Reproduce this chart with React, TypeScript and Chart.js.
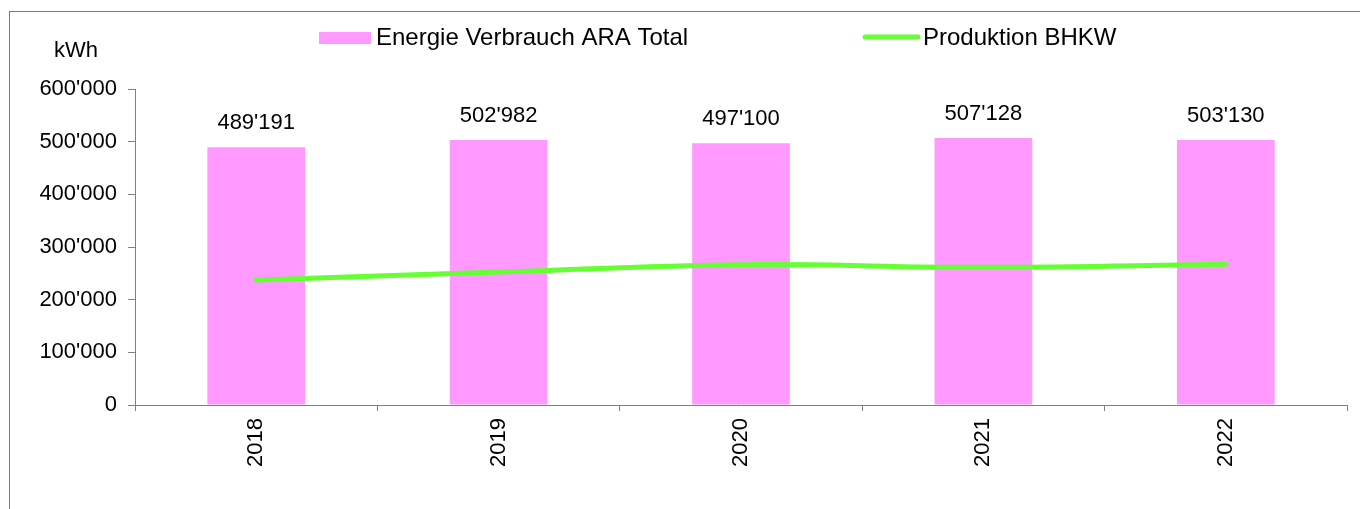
import React, { useEffect, useRef } from "react";
import { Chart, registerables } from "chart.js";

Chart.register(...registerables);

const years = ["2018", "2019", "2020", "2021", "2022"];
const verbrauch = [489191, 502982, 497100, 507128, 503130];
const produktion = [237300, 252500, 266400, 261400, 267100];
const yTicks = [0, 100000, 200000, 300000, 400000, 500000, 600000];

const FONT = "'Liberation Sans', Arial, sans-serif";
const PINK = "#FF99FF";
const GREEN = "#66FF33";
const AXIS = "#808080";

function fmt(v: number): string {
  return String(Math.round(v)).replace(/\B(?=(\d{3})+(?!\d))/g, "'");
}

const decorPlugin = {
  id: "decor",
  beforeDraw(chart: any) {
    const ctx = chart.ctx;
    ctx.save();
    ctx.fillStyle = "#ffffff";
    ctx.fillRect(0, 0, chart.width, chart.height);
    ctx.strokeStyle = "#7a7a7a";
    ctx.lineWidth = 1;
    ctx.strokeRect(9.5, 11.5, chart.width + 20, chart.height + 20);
    ctx.restore();
  },
  afterDatasetsDraw(chart: any) {
    const ctx = chart.ctx;
    ctx.save();
    // data labels above bars
    const idx = chart.data.datasets.findIndex((d: any) => d.type === "bar");
    const meta = chart.getDatasetMeta(idx);
    ctx.fillStyle = "#000";
    ctx.font = `22px ${FONT}`;
    ctx.textAlign = "center";
    ctx.textBaseline = "middle";
    meta.data.forEach((el: any, i: number) => {
      const v = chart.data.datasets[idx].data[i] as number;
      ctx.fillText(fmt(v), el.x, el.y - 24);
    });
    // unit label
    ctx.fillText("kWh", 76, 51);
    // legend
    ctx.textAlign = "left";
    ctx.font = `24px ${FONT}`;
    ctx.fillStyle = PINK;
    ctx.fillRect(319, 32, 52, 12);
    ctx.fillStyle = "#000";
    ctx.fillText(chart.data.datasets[idx].label, 376, 38);
    const li = 1 - idx;
    ctx.strokeStyle = GREEN;
    ctx.lineWidth = 5;
    ctx.lineCap = "round";
    ctx.beginPath();
    ctx.moveTo(865, 37);
    ctx.lineTo(918, 37);
    ctx.stroke();
    ctx.fillText(chart.data.datasets[li].label, 923, 38);
    ctx.restore();
  },
};

export default function App() {
  const ref = useRef<HTMLCanvasElement | null>(null);
  useEffect(() => {
    if (!ref.current) return;
    const chart = new Chart(ref.current, {
      data: {
        labels: years,
        datasets: [
          {
            type: "line",
            label: "Produktion BHKW",
            data: produktion,
            borderColor: GREEN,
            backgroundColor: GREEN,
            borderWidth: 5,
            borderCapStyle: "round",
            borderJoinStyle: "round",
            pointRadius: 0,
            tension: 0.4,
            order: 0,
          } as any,
          {
            type: "bar",
            label: "Energie Verbrauch ARA Total",
            data: verbrauch,
            backgroundColor: PINK,
            borderWidth: 0,
            barPercentage: 1,
            categoryPercentage: 0.403,
            order: 1,
          } as any,
        ],
      },
      options: {
        responsive: false,
        animation: false,
        layout: { padding: { top: 89, right: 13, left: 0, bottom: 0 } },
        plugins: {
          legend: { display: false },
          tooltip: { enabled: false },
          title: { display: false },
        },
        scales: {
          x: {
            grid: {
              offset: true,
              drawOnChartArea: false,
              drawTicks: true,
              tickLength: 6,
              color: AXIS,
            },
            border: { color: AXIS, width: 1 },
            ticks: {
              maxRotation: 90,
              minRotation: 90,
              padding: 7,
              color: "#000",
              font: { size: 22, family: FONT },
            },
            afterFit: (s: any) => {
              s.height = 104;
            },
          },
          y: {
            min: 0,
            max: 600000,
            afterBuildTicks: (s: any) => {
              s.ticks = yTicks.map((v) => ({ value: v }));
            },
            grid: {
              drawOnChartArea: false,
              drawTicks: true,
              tickLength: 7,
              color: AXIS,
            },
            border: { color: AXIS, width: 1 },
            ticks: {
              padding: 11,
              color: "#000",
              font: { size: 22, family: FONT },
              callback: (v: any) => fmt(Number(v)),
            },
            afterFit: (s: any) => {
              s.width = 135;
            },
          },
        },
      } as any,
      plugins: [decorPlugin],
    });
    return () => chart.destroy();
  }, []);
  return (
    <div style={{ position: "absolute", left: 0, top: 0, width: 1360, height: 509 }}>
      <canvas ref={ref} width={1360} height={509} style={{ display: "block" }} />
    </div>
  );
}
